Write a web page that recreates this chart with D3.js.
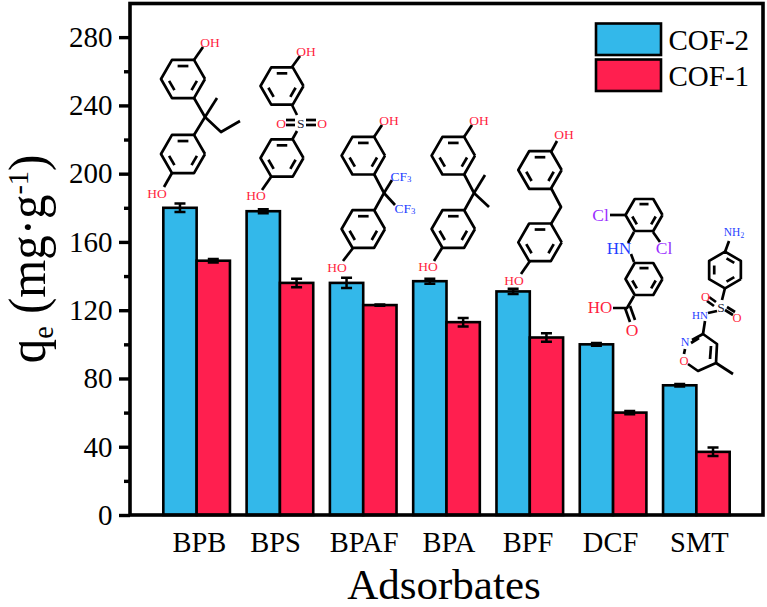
<!DOCTYPE html>
<html>
  <head>
    <meta charset="utf-8">
    <title>Adsorption capacity</title>
    <script src="https://d3js.org/d3.v7.min.js"></script>
    <style>
      body { margin: 0; background: #fff; }
      text { font-family: "Liberation Serif", serif; fill: #000; }
    </style>
  </head>
  <body>
    <svg width="767" height="607"></svg>
    <script>
      const categories = ["BPB", "BPS", "BPAF", "BPA", "BPF", "DCF", "SMT"];
      const seriesNames = ["COF-2", "COF-1"];
      const cof2Values = [180, 178, 136, 137, 131, 100, 76];
      const cof2Errors = [2.5, 1.2, 3, 1.5, 1.5, 0.8, 0.7];
      const cof1Values = [149, 136, 123, 113, 104, 60, 37];
      const cof1Errors = [1, 2.5, 0.4, 2.5, 2.5, 1, 2.5];
      const colors = ["#33b8ea", "#ff1f4f"];
      const majorTicks = [0, 40, 80, 120, 160, 200, 240, 280];
      const minorTicks = [20, 60, 100, 140, 180, 220, 260];

      const svg = d3.select("svg");
      const plotLeft = 130, plotRight = 763, plotTop = 3.5, plotBottom = 515;
      // the category labels are hand placed in the original, not quite centred
      const labelNudge = [2.8, -4.3, 1, 2.4, -1.7, -2.5, 3];

      const x = d3.scaleBand().domain(categories).range([plotLeft, plotRight])
        .paddingInner(0.2).paddingOuter(0.4);
      const xSeries = d3.scaleBand().domain(seriesNames).range([0, x.bandwidth()]);
      const y = d3.scaleLinear().domain([0, 300]).range([plotBottom, 3]);

      // bars and error bars
      const series = [
        { name: "COF-2", values: cof2Values, errors: cof2Errors, color: colors[0] },
        { name: "COF-1", values: cof1Values, errors: cof1Errors, color: colors[1] }
      ];
      series.forEach(s => {
        const g = svg.append("g");
        const bx = i => x(categories[i]) + xSeries(s.name);
        const mid = i => bx(i) + xSeries.bandwidth() / 2;
        g.selectAll("rect").data(s.values).enter().append("rect")
          .attr("x", (d, i) => bx(i))
          .attr("y", d => y(d))
          .attr("width", xSeries.bandwidth())
          .attr("height", d => y(0) - y(d))
          .attr("fill", s.color)
          .attr("stroke", "#000")
          .attr("stroke-width", 2.6);
        g.selectAll("path").data(s.values).enter().append("path")
          .attr("fill", "none")
          .attr("stroke", "#000")
          .attr("stroke-width", 2.5)
          .attr("d", (d, i) => {
            const m = mid(i), hi = y(d + s.errors[i]), lo = y(d - s.errors[i]);
            return `M${m - 5.5},${hi}H${m + 5.5}M${m},${hi}V${lo}M${m - 5.5},${lo}H${m + 5.5}`;
          });
      });

      // frame
      svg.append("rect")
        .attr("x", plotLeft).attr("y", plotTop)
        .attr("width", plotRight - plotLeft).attr("height", plotBottom - plotTop)
        .attr("fill", "none").attr("stroke", "#000").attr("stroke-width", 3.6);

      // y axis
      const yAxis = svg.append("g").attr("transform", `translate(${plotLeft},0)`)
        .call(d3.axisLeft(y).tickValues(majorTicks).tickSize(11).tickPadding(6.5));
      yAxis.select(".domain").remove();
      yAxis.selectAll("line").attr("stroke", "#000").attr("stroke-width", 3.4);
      yAxis.selectAll("text").attr("font-size", 29).attr("font-family", "Liberation Serif");
      const yMinor = svg.append("g").attr("transform", `translate(${plotLeft},0)`)
        .call(d3.axisLeft(y).tickValues(minorTicks).tickSize(6).tickFormat(""));
      yMinor.select(".domain").remove();
      yMinor.selectAll("line").attr("stroke", "#000").attr("stroke-width", 3.4);

      // x labels
      svg.selectAll(".cat").data(categories).enter().append("text")
        .attr("class", "cat")
        .attr("x", (d, i) => x(d) + x.bandwidth() / 2 + labelNudge[i])
        .attr("y", 551.5)
        .attr("text-anchor", "middle")
        .attr("font-size", 28.5)
        .text(d => d);

      svg.append("text").attr("x", 444).attr("y", 599)
        .attr("text-anchor", "middle").attr("font-size", 43).text("Adsorbates");

      // the title is squeezed along its length in the original
      const yTitle = svg.append("text")
        .attr("transform", "translate(45,259) rotate(-90) scale(0.94,1)")
        .attr("text-anchor", "middle")
        .attr("font-size", 52);
      yTitle.append("tspan").text("q");
      yTitle.append("tspan").attr("font-size", 30).attr("dy", 8).text("e");
      yTitle.append("tspan").attr("dy", -8).text(" (mg·g");
      yTitle.append("tspan").attr("font-size", 30).attr("dy", -17).text("-1");
      yTitle.append("tspan").attr("dy", 17).text(")");

      // legend
      const legend = svg.append("g").selectAll("g").data(series).enter().append("g")
        .attr("transform", (d, i) => `translate(596,${23.5 + i * 36})`);
      legend.append("rect")
        .attr("width", 65).attr("height", 31.5)
        .attr("fill", d => d.color)
        .attr("stroke", "#000").attr("stroke-width", 2.6);
      legend.append("text")
        .attr("x", 72.5).attr("y", 26.5)
        .attr("font-size", 29)
        .text(d => d.name);

      // molecule sketches above the bars (decoration, not data)
      const mol = svg.append("g");
      const RED = "#ff1f3f", BLUE = "#1f3fff", PURPLE = "#9a30ff";

      function bond(pts) {
        mol.append("path").attr("d", d3.line()(pts))
          .attr("fill", "none").attr("stroke", "#000")
          .attr("stroke-width", 2.7).attr("stroke-linejoin", "round");
      }
      function label(t, px, py, color, size) {
        const el = mol.append("text").attr("x", px).attr("y", py)
          .attr("text-anchor", "middle").attr("dominant-baseline", "central")
          .attr("font-size", size || 13.5).style("fill", color);
        const m = t.match(/^([A-Z]+[a-z]?)(\d)$/);
        if (m) {
          el.append("tspan").text(m[1]);
          el.append("tspan").attr("font-size", (size || 13.5) * 0.65).attr("dy", 3).text(m[2]);
        } else {
          el.text(t);
        }
      }
      function ring(cx, cy, r, start) {
        const a0 = start === undefined ? 0 : start;
        const pts = d3.range(6).map(i => {
          const a = a0 + i * Math.PI / 3;
          return [cx + r * Math.cos(a), cy + r * Math.sin(a)];
        });
        bond([...pts, pts[0]]);
        // inner double bonds on three alternate edges
        [[0, 1], [2, 3], [4, 5]].forEach(([p, q]) => {
          const inner = k => [cx + (pts[k][0] - cx) * 0.68, cy + (pts[k][1] - cy) * 0.68];
          const a = inner(p), b = inner(q);
          const t = 0.14;
          bond([[a[0] + (b[0] - a[0]) * t, a[1] + (b[1] - a[1]) * t],
                [b[0] - (b[0] - a[0]) * t, b[1] - (b[1] - a[1]) * t]]);
        });
      }

      // BPB
      ring(183, 79, 22); ring(183, 154, 22);
      bond([[194, 60], [203, 47]]); label("OH", 210, 42, RED);
      bond([[194, 98], [205, 117], [194, 135]]);
      bond([[205, 117], [217, 98]]);
      bond([[205, 117], [221, 132], [240, 121]]);
      bond([[172, 173], [164, 187]]); label("HO", 157, 193, RED);

      // BPS
      ring(282, 86, 21.5); ring(282, 158, 21.5);
      bond([[292, 67], [300, 56]]); label("OH", 306, 51, RED);
      bond([[292, 105], [297, 115]]); bond([[292, 140], [297, 131]]);
      label("S", 300.7, 123, "#223");
      bond([[286, 120], [295, 120]]); bond([[286, 125], [295, 125]]);
      bond([[306, 120], [316, 120]]); bond([[306, 125], [316, 125]]);
      label("O", 281, 123, RED); label("O", 322, 123, RED);
      bond([[271, 177], [262, 190]]); label("HO", 256, 195, RED);

      // BPAF
      ring(363.3, 155.7, 21.7); ring(363.3, 229, 21.7);
      bond([[374, 137], [382, 125]]); label("OH", 389, 120, RED);
      bond([[374, 174], [384, 193], [374, 211]]);
      bond([[384, 193], [392, 180]]); bond([[384, 193], [395, 205]]);
      label("CF3", 401, 175.5, BLUE); label("CF3", 405, 208, BLUE);
      bond([[353, 248], [343, 261]]); label("HO", 337, 267, RED);

      // BPA
      ring(453.3, 155.7, 21.7); ring(453.3, 229, 21.7);
      bond([[464, 137], [472, 125]]); label("OH", 479, 120, RED);
      bond([[464, 174], [474, 193], [464, 211]]);
      bond([[474, 193], [485, 175]]); bond([[474, 193], [489, 207]]);
      bond([[442, 248], [434, 261]]); label("HO", 428, 266, RED);

      // BPF
      ring(540, 170, 21.7); ring(540, 242.3, 21.7);
      bond([[551, 152], [557, 141]]); label("OH", 564, 134, RED);
      bond([[551, 188], [561, 207], [551, 224]]);
      bond([[530, 261], [521, 274]]); label("HO", 514, 280, RED);

      // DCF
      ring(644, 215, 18.5); ring(644, 279, 18.5);
      bond([[625.5, 215], [610, 215]]); label("Cl", 600.5, 215, PURPLE, 17.5);
      bond([[653, 232], [660, 242]]); label("Cl", 664, 248, PURPLE, 17.5);
      bond([[634, 232], [628, 243]]); label("HN", 619, 248, BLUE, 17);
      bond([[631, 254], [634, 262]]);
      bond([[634, 296], [627, 308], [613, 308]]); label("HO", 600, 307.5, RED, 17);
      bond([[625, 308], [630, 322]]); bond([[630, 306], [635, 320]]);
      label("O", 632, 330, RED, 17.5);

      // SMT
      ring(725, 270, 18.3, Math.PI / 6);
      bond([[725, 252], [729, 241]]); label("NH2", 734, 232, BLUE, 11.5);
      bond([[725, 288], [722, 300]]);
      label("S", 721, 307, "#223");
      bond([[709, 297], [716, 302]]); bond([[707, 301], [714, 306]]);
      bond([[725, 310], [733, 315]]); bond([[727, 307], [735, 312]]);
      label("O", 705.5, 297, RED, 12.5); label("O", 737, 318, RED, 12.5);
      bond([[717, 311], [708, 313]]); label("HN", 700, 315, BLUE, 11);
      bond([[705, 321], [703, 334]]);
      bond([[703, 334], [717, 344], [716, 363], [698, 371], [688, 364]]);
      bond([[703, 334], [692, 340]]); bond([[699, 338], [691, 343]]);
      bond([[711, 346], [710, 359]]);
      bond([[716, 363], [733, 374]]);
      bond([[685, 349], [684, 354]]);
      label("N", 685, 342, BLUE, 12); label("O", 684, 361, RED, 12.5);
    </script>
  </body>
</html>
